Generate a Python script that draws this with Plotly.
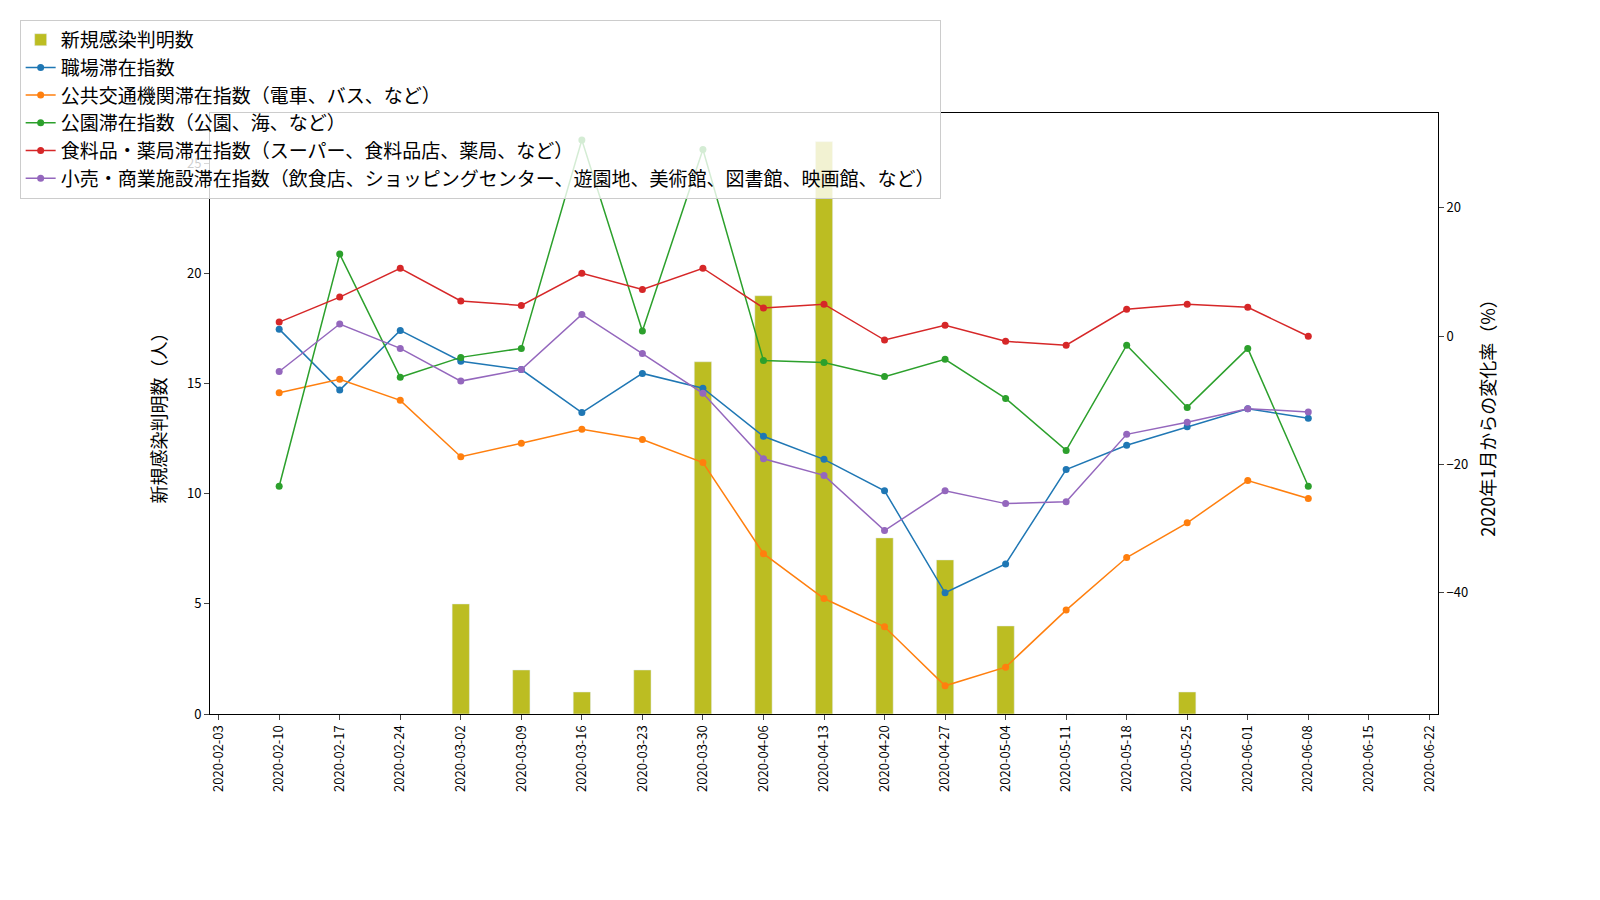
import plotly.graph_objects as go

dates = ["2020-02-10", "2020-02-17", "2020-02-24", "2020-03-02", "2020-03-09", "2020-03-16",
         "2020-03-23", "2020-03-30", "2020-04-06", "2020-04-13", "2020-04-20", "2020-04-27",
         "2020-05-04", "2020-05-11", "2020-05-18", "2020-05-25", "2020-06-01", "2020-06-08"]
new_cases = [0, 0, 0, 5, 2, 1, 2, 16, 19, 26, 8, 7, 4, 0, 0, 1, 0, 0]
workplace = [1.1, -8.4, 0.9, -3.9, -5.2, -11.9, -5.8, -8.1, -15.6, -19.2, -24.1, -40, -35.5, -20.8, -17, -14.1, -11.3, -12.8]
transit = [-8.8, -6.7, -10, -18.8, -16.7, -14.5, -16.1, -19.7, -33.9, -40.9, -45.3, -54.5, -51.6, -42.7, -34.5, -29.1, -22.5, -25.3]
parks = [-23.4, 12.8, -6.4, -3.3, -1.9, 30.6, 0.8, 29.1, -3.8, -4.1, -6.3, -3.6, -9.7, -17.8, -1.4, -11.1, -1.9, -23.4]
grocery = [2.2, 6.1, 10.6, 5.5, 4.8, 9.8, 7.3, 10.6, 4.4, 5, -0.6, 1.7, -0.8, -1.4, 4.2, 5, 4.5, 0]
retail = [-5.5, 1.9, -1.9, -7, -5.2, 3.4, -2.7, -8.9, -19.1, -21.7, -30.3, -24.1, -26.1, -25.8, -15.3, -13.4, -11.3, -11.8]

series = [
    ("職場滞在指数", workplace, "#1f77b4"),
    ("公共交通機関滞在指数（電車、バス、など）", transit, "#ff7f0e"),
    ("公園滞在指数（公園、海、など）", parks, "#2ca02c"),
    ("食料品・薬局滞在指数（スーパー、食料品店、薬局、など）", grocery, "#d62728"),
    ("小売・商業施設滞在指数（飲食店、ショッピングセンター、遊園地、美術館、図書館、映画館、など）", retail, "#9467bd"),
]

fig = go.Figure()
fig.add_trace(go.Bar(x=dates, y=new_cases, name="新規感染判明数", marker_color="#bcbd22",
                     width=2 * 86400000))
for name, vals, color in series:
    fig.add_trace(go.Scatter(x=dates, y=vals, name=name, yaxis="y2", mode="lines+markers",
                             line=dict(color=color, width=1.5), marker=dict(size=7, color=color)))

fig.update_layout(
    width=1600, height=900, plot_bgcolor="white", paper_bgcolor="white",
    font=dict(family="Noto Sans CJK JP", size=13, color="black"),
    margin=dict(l=198, r=170, t=99, b=194),
    showlegend=True,
    legend=dict(x=-0.155, y=1.155, xanchor="left", yanchor="top", bgcolor="rgba(255,255,255,0.8)",
                bordercolor="#cccccc", borderwidth=1, font=dict(size=19)),
    xaxis=dict(type="date", range=["2020-02-02", "2020-06-23"], tick0="2020-02-03", dtick=7 * 86400000,
               tickformat="%Y-%m-%d", tickangle=-90, showline=True, linecolor="black", mirror=True,
               ticks="outside", showgrid=False),
    yaxis=dict(title=dict(text="新規感染判明数（人）", font=dict(size=18)), range=[0, 27.3], dtick=5,
               showline=True, linecolor="black", ticks="outside", showgrid=False, zeroline=False),
    yaxis2=dict(title=dict(text="2020年1月からの変化率（%）", font=dict(size=18)), overlaying="y", side="right",
                range=[-58.9, 34.8], dtick=20, showline=True, linecolor="black", ticks="outside",
                showgrid=False, zeroline=False),
)
fig.write_html("out.html")
